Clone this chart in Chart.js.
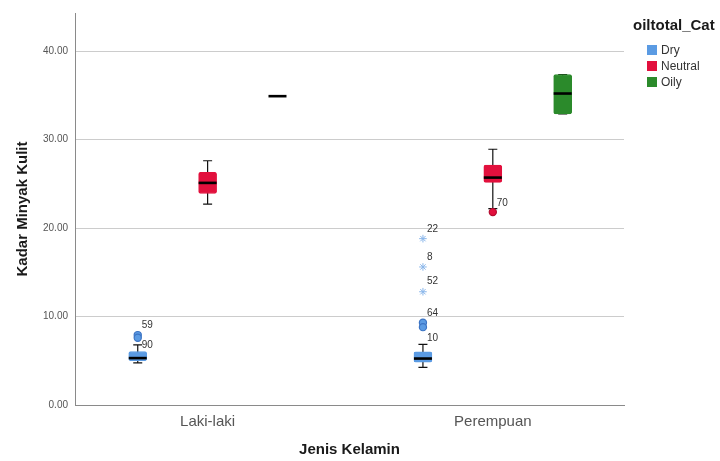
<!DOCTYPE html>
<html>
<head>
<meta charset="utf-8">
<script src="https://cdn.jsdelivr.net/npm/chart.js@4.4.0/dist/chart.umd.min.js"></script>
<style>
  html, body { margin: 0; padding: 0; background: #fff; }
  #wrap { width: 720px; height: 461px; }
</style>
</head>
<body>
<div id="wrap"><canvas id="chart" width="720" height="461"></canvas></div>
<script>
// Kategori dan grup
var categories = ['Laki-laki', 'Perempuan']
var groups = ['Dry', 'Neutral', 'Oily']
var groupColors = ['#5b9be3', '#e2103d', '#2b8a2b']
var groupBorders = ['#3c74c4', '#b40c30', '#1e6c1e']
var groupOffset = [-0.245, 0, 0.245]

// Nilai boxplot per grup: [Laki-laki, Perempuan]
var dryLow = [4.75, 4.25]
var dryQ1 = [5.0, 4.85]
var dryMedian = [5.3, 5.25]
var dryQ3 = [6.05, 6.0]
var dryHigh = [6.8, 6.85]

var neutralLow = [22.7, 22.2]
var neutralQ1 = [23.9, 25.15]
var neutralMedian = [25.1, 25.7]
var neutralQ3 = [26.3, 27.1]
var neutralHigh = [27.6, 28.9]

var oilyLow = [34.9, 32.9]
var oilyQ1 = [34.9, 32.9]
var oilyMedian = [34.9, 35.2]
var oilyQ3 = [34.9, 37.35]
var oilyHigh = [34.9, 37.35]

var lows = [dryLow, neutralLow, oilyLow]
var q1s = [dryQ1, neutralQ1, oilyQ1]
var medians = [dryMedian, neutralMedian, oilyMedian]
var q3s = [dryQ3, neutralQ3, oilyQ3]
var highs = [dryHigh, neutralHigh, oilyHigh]

// Outlier (lingkaran)
var outlierGroup = [0, 0, 0, 0, 1]
var outlierCat = [0, 0, 1, 1, 1]
var outlierValue = [7.9, 7.6, 9.3, 8.8, 21.8]
var outlierId = ['59', '90', '64', '10', '70']
var outlierLabelDy = [-10, 8, -9, 11, -9]

// Nilai ekstrem (bintang)
var extremeGroup = [0, 0, 0]
var extremeCat = [1, 1, 1]
var extremeValue = [18.8, 15.6, 12.8]
var extremeId = ['22', '8', '52']
var extremeLabelDy = [-9, -10, -10]

// Sumbu y
var yMax = 44.3
var yStep = 10

function posOf(g, c) {
  return c + 1 + groupOffset[g]
}

var datasets = []
groups.forEach((name, g) => {
  datasets.push({
    type: 'bar',
    label: name,
    data: categories.map((c, i) => ({ x: posOf(g, i), y: [q1s[g][i], q3s[g][i]] })),
    backgroundColor: groupColors[g],
    borderColor: groupColors[g],
    borderWidth: 1,
    borderRadius: 2,
    borderSkipped: false,
    barThickness: 18,
    grouped: false
  })
})

var circleData = outlierValue.map((v, k) => ({ x: posOf(outlierGroup[k], outlierCat[k]), y: v }))
datasets.push({
  type: 'scatter',
  label: 'outliers',
  data: circleData,
  pointStyle: 'circle',
  radius: 3.6,
  backgroundColor: outlierGroup.map(g => groupColors[g]),
  borderColor: outlierGroup.map(g => groupBorders[g]),
  borderWidth: 1.2
})

var starData = extremeValue.map((v, k) => ({ x: posOf(extremeGroup[k], extremeCat[k]), y: v }))
datasets.push({
  type: 'scatter',
  label: 'extremes',
  data: starData,
  pointStyle: 'star',
  radius: 3.8,
  backgroundColor: '#8ab6ea',
  borderColor: '#8ab6ea',
  borderWidth: 1
})

// Kumis, median, label outlier
var boxParts = {
  id: 'boxParts',
  beforeDatasetsDraw(chart) {
    var ctx = chart.ctx
    var xs = chart.scales.x, ys = chart.scales.y
    ctx.save()
    ctx.strokeStyle = '#111'
    ctx.lineWidth = 1.2
    groups.forEach((name, g) => {
      categories.forEach((c, i) => {
        if (highs[g][i] === lows[g][i]) return
        var px = xs.getPixelForValue(posOf(g, i))
        var yl = ys.getPixelForValue(lows[g][i])
        var yh = ys.getPixelForValue(highs[g][i])
        ctx.beginPath()
        ctx.moveTo(px, yl); ctx.lineTo(px, yh)
        ctx.moveTo(px - 4.5, yl); ctx.lineTo(px + 4.5, yl)
        ctx.moveTo(px - 4.5, yh); ctx.lineTo(px + 4.5, yh)
        ctx.stroke()
      })
    })
    ctx.restore()
  },
  afterDatasetsDraw(chart) {
    var ctx = chart.ctx
    var xs = chart.scales.x, ys = chart.scales.y
    ctx.save()
    ctx.strokeStyle = '#000'
    ctx.lineWidth = 2.6
    groups.forEach((name, g) => {
      categories.forEach((c, i) => {
        var px = xs.getPixelForValue(posOf(g, i))
        var py = ys.getPixelForValue(medians[g][i])
        ctx.beginPath()
        ctx.moveTo(px - 9, py); ctx.lineTo(px + 9, py)
        ctx.stroke()
      })
    })
    ctx.fillStyle = '#333'
    ctx.font = '10px "Liberation Sans", Arial, sans-serif'
    ctx.textAlign = 'left'
    ctx.textBaseline = 'middle'
    outlierValue.forEach((v, k) => {
      var px = xs.getPixelForValue(posOf(outlierGroup[k], outlierCat[k]))
      var py = ys.getPixelForValue(v)
      ctx.fillText(outlierId[k], px + 4, py + outlierLabelDy[k])
    })
    extremeValue.forEach((v, k) => {
      var px = xs.getPixelForValue(posOf(extremeGroup[k], extremeCat[k]))
      var py = ys.getPixelForValue(v)
      ctx.fillText(extremeId[k], px + 4, py + extremeLabelDy[k])
    })
    ctx.restore()
  },
  afterDraw(chart) {
    // Legenda
    var ctx = chart.ctx
    ctx.save()
    ctx.textAlign = 'left'
    ctx.textBaseline = 'middle'
    ctx.fillStyle = '#1a1a1a'
    ctx.font = 'bold 15px "Liberation Sans", Arial, sans-serif'
    ctx.fillText('oiltotal_Cat', 633, 26)
    ctx.font = '12px "Liberation Sans", Arial, sans-serif'
    groups.forEach((name, g) => {
      var cy = 50 + g * 16
      ctx.fillStyle = groupColors[g]
      ctx.fillRect(647, cy - 5, 10, 10)
      ctx.fillStyle = '#333'
      ctx.fillText(name, 661, cy + 1)
    })
    ctx.restore()
  }
}

var chart = new Chart(document.getElementById('chart'), {
  type: 'bar',
  data: { datasets: datasets },
  plugins: [boxParts],
  options: {
    responsive: false,
    animation: false,
    layout: { padding: { left: 0, top: 12, right: 96, bottom: 0 } },
    plugins: {
      legend: { display: false },
      tooltip: { enabled: false }
    },
    scales: {
      x: {
        type: 'linear',
        offset: false,
        min: 0.535,
        max: 2.46,
        afterBuildTicks(scale) {
          scale.ticks = categories.map((c, i) => ({ value: i + 1 }))
        },
        afterFit(scale) { scale.height = 56 },
        grid: { display: false, drawTicks: false },
        border: { display: true, color: '#8a8a8a', width: 1 },
        ticks: {
          padding: 8,
          color: '#555',
          font: { family: '"Liberation Sans", Arial, sans-serif', size: 15 },
          callback: (v) => categories[v - 1]
        },
        title: {
          display: true,
          text: 'Jenis Kelamin',
          color: '#1a1a1a',
          font: { family: '"Liberation Sans", Arial, sans-serif', size: 15, weight: 'bold' },
          padding: { top: 0, bottom: 2 }
        }
      },
      y: {
        min: 0,
        max: yMax,
        afterFit(scale) { scale.width = 75 },
        grid: { color: '#cccccc', lineWidth: 1, drawTicks: false },
        border: { display: true, color: '#8a8a8a', width: 1 },
        ticks: {
          stepSize: yStep,
          includeBounds: false,
          padding: 7,
          color: '#555',
          font: { family: '"Liberation Sans", Arial, sans-serif', size: 10 },
          callback: (v) => v.toFixed(2)
        },
        title: {
          display: true,
          text: 'Kadar Minyak Kulit',
          color: '#1a1a1a',
          font: { family: '"Liberation Sans", Arial, sans-serif', size: 15, weight: 'bold' },
          padding: { top: 14, bottom: 0 }
        }
      }
    }
  }
})
</script>
</body>
</html>
